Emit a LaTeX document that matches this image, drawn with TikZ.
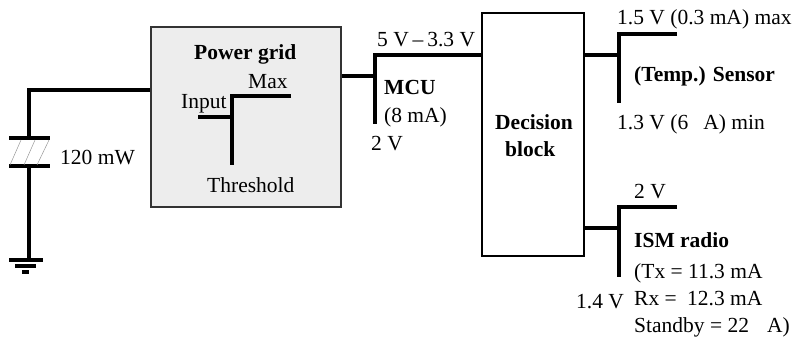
\documentclass[tikz,border=0pt]{standalone}
\usepackage{fontspec}
\setmainfont{Liberation Serif}
\usetikzlibrary{positioning, calc}

\begin{document}
\begin{tikzpicture}[
    x=1pt, y=-1pt,
    wire/.style={line width=4pt, black},
    hatch/.style={line width=0.5pt, black!40},
    block/.style={rectangle, draw=#1, line width=2pt, inner sep=0pt},
    txt/.style={anchor=base west, inner sep=0pt, font=\fontsize{21.5}{26}\selectfont},
    head/.style={anchor=base west, inner sep=0pt, font=\fontsize{21.5}{26}\selectfont\bfseries}
]
\useasboundingbox (0,0) rectangle (794,338);

% Blocks
\node[block=black!80, fill=black!7, minimum width=190pt, minimum height=180pt] (grid) at (246, 117) {};
\node[block=black, fill=white, minimum width=102pt, minimum height=243pt] (decide) at (533, 134.5) {};

% Battery and ground
\coordinate (gridin) at (grid.west |- 0,90);
\coordinate (corner) at (29, 90);
\coordinate (platetop) at (29, 138);
\coordinate (platebot) at (29, 166);
\coordinate (gnd) at (29, 260);
\draw[wire] (gridin) -- (corner) -- (platetop);
\draw[wire] (platebot) -- (gnd);
\draw[wire] (9, 138) -- (50, 138);
\draw[wire] (9, 166) -- (50, 166);
\draw[hatch] (21, 140) -- (10, 165);
\draw[hatch] (35, 140) -- (24, 165);
\draw[hatch] (49, 140) -- (37, 165);
\draw[wire] (9, 260) -- (43, 260);
\draw[wire] (15, 266) -- (36, 266);
\draw[wire] (22, 272) -- (29, 272);
\node[txt] (batlabel) at (60, 164) {120 mW};

% Power grid inside
\coordinate (gridmid) at (232, 96);
\draw[wire] (291, 96) -- (gridmid) -- (232, 165);
\draw[wire] (198, 117) -- (232, 117);
\node[head] (gridtitle) at (194, 59) {Power grid};
\node[txt] (gridmax) at (248, 88) {Max};
\node[txt] (gridinput) at (181, 108) {Input};
\node[txt] (gridthres) at (207, 192) {Threshold};

% MCU
\coordinate (mcujoin) at (375, 76);
\coordinate (mcutop) at (375, 55);
\draw[wire] (grid.east |- mcujoin) -- (mcujoin);
\draw[wire] (decide.west |- mcutop) -- (mcutop) -- (375, 124);
\node[txt] (railv) at (377, 46) {5 V\hspace{-1.5pt} -- \hspace{-1.5pt}3.3 V};
\node[head] (mcu) at (384, 94) {MCU};
\node[txt] (mcuma) at (384, 122) {(8 mA)};
\node[txt] (mcumin) at (371, 150) {2 V};

% Decision block text
\node[head] (dec1) at (495, 129) {Decision};
\node[head] (dec2) at (505, 156) {block};

% Sensor
\coordinate (senjoin) at (619, 55);
\coordinate (sentop) at (619, 34);
\draw[wire] (decide.east |- senjoin) -- (senjoin);
\draw[wire] (677, 34) -- (sentop) -- (619, 103);
\node[txt] (senmax) at (617, 24) {1.5 V (0.3 mA) max};
\node[head] (sensor) at (634, 81) {(Temp.) Sensor};
\node[txt] (senmin) at (617, 129) {1.3 V (6\hspace{15pt}A) min};

% ISM radio
\coordinate (ismjoin) at (619, 228);
\coordinate (ismtop) at (619, 207);
\draw[wire] (decide.east |- ismjoin) -- (ismjoin);
\draw[wire] (677, 207) -- (ismtop) -- (619, 277);
\node[txt] (ismmax) at (634, 198) {2 V};
\node[head] (ism) at (634, 247) {ISM radio};
\node[txt] (ismtx) at (634, 278) {(Tx = 11.3 mA};
\node[txt] (ismrx) at (634, 305) {Rx =\hspace{5pt} 12.3 mA};
\node[txt] (ismsb) at (634, 332) {Standby = 22\hspace{18pt}A)};
\node[txt] (ismmin) at (576, 308) {1.4 V};
\end{tikzpicture}
\end{document}
